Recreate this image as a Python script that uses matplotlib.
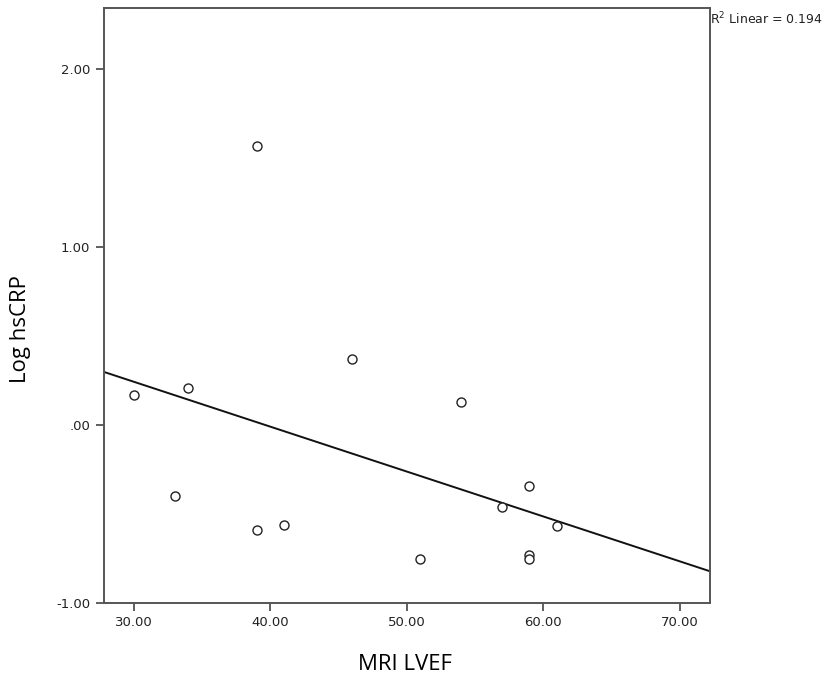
import numpy as np
import matplotlib.pyplot as plt

# MRI LVEF vs Log hsCRP
lvef = [30, 39, 34, 46, 54, 33, 39, 41, 51, 59, 57, 61, 59, 59]
log_crp = [0.17, 1.57, 0.21, 0.37, 0.13, -0.40, -0.59, -0.56, -0.75, -0.34, -0.46, -0.57, -0.73, -0.75]
xticks = [30, 40, 50, 60, 70]
yticks = [-1, 0, 1, 2]
ytick_labels = ["-1.00", ".00", "1.00", "2.00"]
r2_text = "R$^2$ Linear = 0.194"

fig = plt.figure(figsize=(8.37, 6.86), dpi=100)
ax = fig.add_axes([0.1238, 0.121, 0.7239, 0.8673])

ax.plot(lvef, log_crp, "o", markerfacecolor="white", markeredgecolor="#222222",
        markersize=6.5, markeredgewidth=1.0, zorder=3)

# linear fit line across the whole x range
xlim = (27.78, 72.2)
b, a = np.polyfit(lvef, log_crp, 1)
xs = np.array(xlim)
ax.plot(xs, a + b * xs, color="#111111", linewidth=1.4, zorder=2)

ax.set_xlim(*xlim)
ax.set_ylim(-1.0, 2.343)
ax.set_xticks(xticks)
ax.set_xticklabels([f"{t:.2f}" for t in xticks])
ax.set_yticks(yticks)
ax.set_yticklabels(ytick_labels)
ax.tick_params(direction="out", length=6, width=1.2, color="#444444",
               labelsize=9.5, labelcolor="#222222")

for s in ax.spines.values():
    s.set_color("#555555")
    s.set_linewidth(1.4)

fig.text(0.0245, 0.5205, "Log hsCRP", rotation=90, ha="center", va="center",
         fontsize=16, family="Open Sans")
fig.text(0.484, 0.031, "MRI LVEF", ha="center", va="center",
         fontsize=16, family="Open Sans")
fig.text(0.8485, 0.972, r2_text, ha="left", va="center", fontsize=9, color="#222222")

fig.savefig("out.png", dpi=100)
